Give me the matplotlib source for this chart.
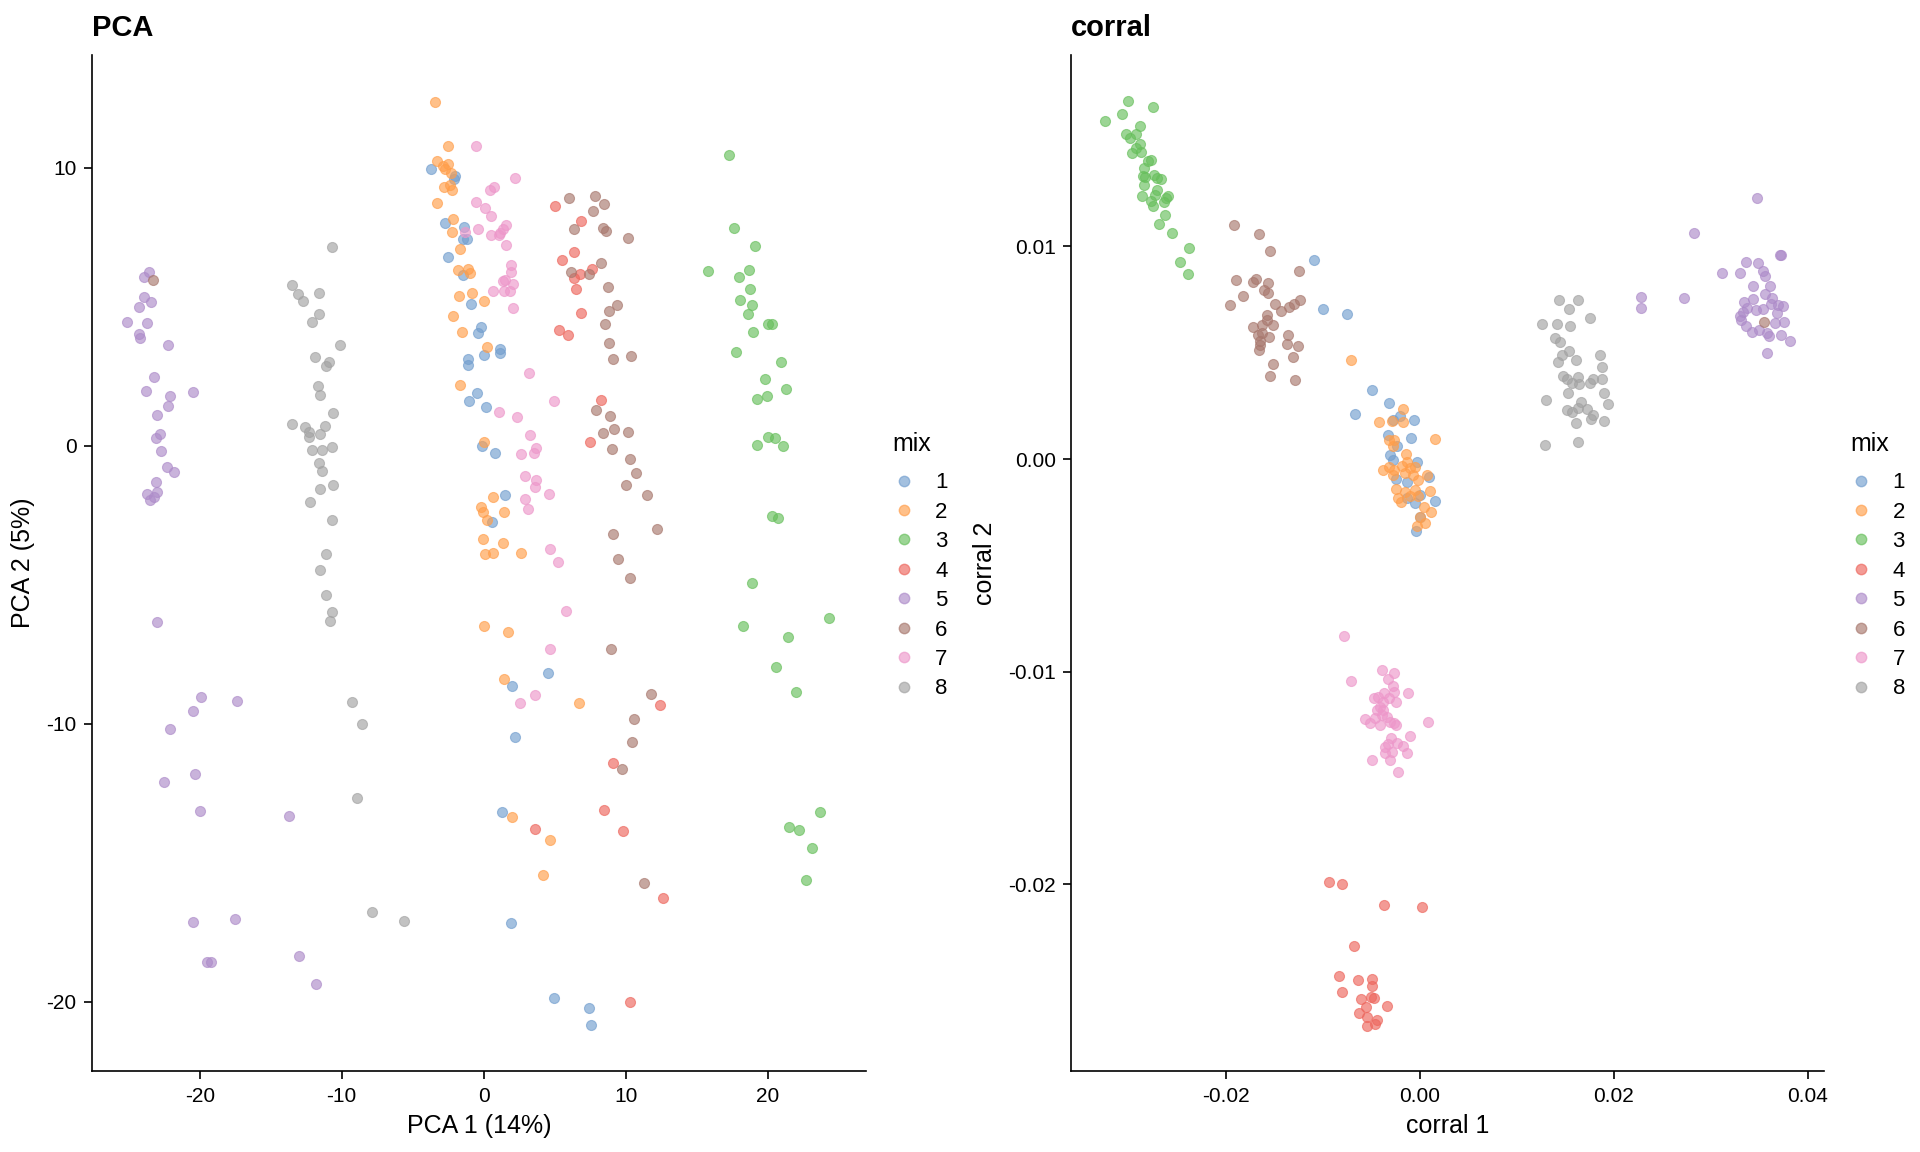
import numpy as np
import matplotlib
import matplotlib.pyplot as plt
from matplotlib.lines import Line2D
from matplotlib.ticker import FormatStrFormatter
matplotlib.use('Agg')

plt.rcParams['font.family'] = ['Liberation Sans', 'DejaVu Sans']
plt.rcParams['axes.unicode_minus'] = False

mix_levels = ['1', '2', '3', '4', '5', '6', '7', '8']
# tableau10medium, scater default
mix_colors = ['#729ECE', '#FF9E4A', '#67BF5C', '#ED665D',
              '#AD8BC9', '#A8786E', '#ED97CA', '#A2A2A2']

# ---- PCA panel ----
pca_x_1 = [-3.71, -2.1, -2.0, -2.7, -1.37, -1.48, -1.2, -2.49, -1.48, -0.87,
           -0.17, -0.42, 0.0, 1.13, 1.15, -1.08, -1.1, -0.45, -1.04, 0.16,
           -0.14, 0.8, 1.5, 0.56, 4.55, 1.99, 2.2, 1.31, 1.92, 4.95, 7.39, 7.58]
pca_y_1 = [9.94, 9.6, 9.7, 8.02, 7.86, 7.45, 7.45, 6.78, 6.12, 5.1,
           4.26, 4.04, 3.25, 3.47, 3.35, 3.11, 2.91, 1.88, 1.62, 1.39,
           -0.01, -0.27, -1.77, -2.73, -8.18, -8.63, -10.49, -13.18, -17.15, -19.85, -20.23, -20.84]

pca_x_2 = [-3.43, -2.54, -3.27, -2.85, -2.49, -2.73, -2.3, -2.8, -2.37, -2.21,
           -3.27, -2.14, -2.23, -1.69, -1.79, -1.08, -0.96, -1.74, -0.82, 0.0,
           -2.18, -1.51, 0.25, -1.67, 0.0, 0.68, -0.21, -0.05, 0.21, 1.41,
           -0.05, 1.36, 0.11, 0.63, 2.6, 0.04, 1.71, 1.45, 6.73, 1.99, 4.65, 4.2]
pca_y_2 = [12.37, 10.78, 10.24, 10.06, 10.13, 9.94, 9.8, 9.29, 9.38, 9.2,
           8.74, 8.14, 7.68, 7.06, 6.32, 6.34, 6.22, 5.37, 5.48, 5.22,
           4.67, 4.1, 3.54, 2.19, 0.13, -1.85, -2.19, -2.4, -2.67, -2.38,
           -3.37, -3.5, -3.88, -3.87, -3.85, -6.49, -6.69, -8.38, -9.25, -13.36, -14.16, -15.43]

pca_x_3 = [17.27, 17.63, 19.13, 15.82, 18.0, 18.68, 18.73, 18.07, 18.92, 18.59,
           20.02, 20.32, 18.94, 17.75, 20.96, 19.79, 21.27, 19.25, 19.97, 19.25,
           20.04, 20.54, 21.1, 20.32, 20.75, 18.92, 18.28, 24.34, 21.45, 20.58,
           22.01, 23.68, 21.52, 22.18, 23.14, 22.68]
pca_y_3 = [10.45, 7.82, 7.17, 6.27, 6.08, 6.32, 5.64, 5.24, 5.05, 4.74,
           4.37, 4.39, 4.1, 3.37, 3.0, 2.39, 2.03, 1.68, 1.79, 0.04,
           0.3, 0.26, -0.01, -2.54, -2.6, -4.95, -6.49, -6.2, -6.89, -7.97,
           -8.86, -13.17, -13.72, -13.81, -14.46, -15.63]

pca_x_4 = [5.04, 6.85, 6.36, 5.54, 7.63, 6.78, 6.38, 6.48, 6.83, 5.32,
           5.92, 8.26, 7.46, 12.4, 9.13, 3.63, 8.45, 9.83, 12.63, 10.32]
pca_y_4 = [8.62, 8.07, 6.96, 6.68, 6.34, 6.18, 6.02, 5.64, 4.76, 4.16,
           3.97, 1.65, 0.13, -9.33, -11.41, -13.78, -13.11, -13.86, -16.28, -20.0]

pca_x_5 = [-23.6, -23.9, -23.9, -23.4, -24.3, -25.1, -23.7, -24.3, -24.2, -22.2,
           -23.2, -23.8, -20.5, -22.1, -22.2, -23.0, -22.8, -23.1, -22.7, -22.3,
           -21.8, -23.1, -23.0, -23.7, -23.2, -23.5, -23.0,
           -19.9, -17.4, -20.5, -22.1, -20.3, -22.5, -20.0, -13.7, -20.5, -17.5,
           -19.5, -19.2, -13.0, -11.8]
pca_y_5 = [6.26, 6.06, 5.34, 5.18, 4.98, 4.44, 4.41, 4.0, 3.86, 3.62,
           2.48, 1.96, 1.94, 1.79, 1.43, 1.1, 0.41, 0.29, -0.2, -0.75,
           -0.94, -1.29, -1.65, -1.74, -1.83, -1.95, -6.33,
           -9.03, -9.17, -9.55, -10.17, -11.82, -12.1, -13.12, -13.33, -17.12, -17.03,
           -18.58, -18.55, -18.36, -19.34]

pca_x_6 = [6.0, 7.84, 8.49, 7.68, 6.38, 8.42, 8.61, 10.16, 8.24, 6.17,
           7.42, 8.73, 9.41, 8.8, 8.56, 8.85, 9.13, 10.35, 7.89, 8.92,
           8.38, 9.15, 10.18, 9.04, 10.3, 10.7, 10.02, 11.5, 12.2, 9.13,
           9.44, 10.28, 8.94, 11.8, 10.6, 10.47, 9.76, 11.27, -23.3]
pca_y_6 = [8.91, 8.97, 8.68, 8.45, 7.78, 7.82, 7.72, 7.46, 6.57, 6.24,
           6.17, 5.71, 5.07, 4.83, 4.39, 3.71, 3.13, 3.23, 1.29, 1.07,
           0.47, 0.59, 0.49, -0.12, -0.49, -0.98, -1.43, -1.79, -3.0, -3.16,
           -4.08, -4.77, -7.3, -8.94, -9.83, -10.64, -11.63, -15.71, 5.96]

pca_x_7 = [-0.56, 2.18, 0.44, 0.75, -0.56, 0.09, 0.49, -1.3, -0.4, 1.59,
           1.38, 1.15, 0.49, 1.06, 1.55, 1.92, 1.92, 1.34, 1.52, 2.08,
           0.68, 1.45, 1.85, 2.06, 3.19, 4.97, 1.1, 2.32, 3.24, 3.66,
           3.54, 2.63, 2.93, 3.68, 3.63, 4.62, 2.93, 3.12, 4.65, 5.25,
           5.77, 4.65, 3.61, 2.54]
pca_y_7 = [10.78, 9.64, 9.2, 9.29, 8.76, 8.55, 8.27, 7.7, 7.78, 7.94,
           7.79, 7.66, 7.58, 7.57, 7.22, 6.5, 6.26, 5.92, 5.96, 5.82,
           5.55, 5.56, 5.58, 4.95, 2.63, 1.6, 1.2, 1.04, 0.37, -0.09,
           -0.27, -0.3, -1.08, -1.23, -1.5, -1.73, -1.93, -2.28, -3.7, -4.18,
           -5.95, -7.3, -8.96, -9.25]

pca_x_8 = [-10.7, -13.5, -13.1, -11.6, -12.7, -11.6, -12.1, -10.1, -11.9, -10.9,
           -11.1, -11.7, -11.5, -10.6, -13.5, -12.6, -12.3, -12.3, -11.2, -11.5,
           -12.1, -11.4, -10.7, -11.6, -11.4, -11.5, -10.6, -12.2, -10.7, -11.1,
           -11.5, -11.1, -10.7, -10.8, -9.25, -8.6, -8.9, -7.9, -5.6]
pca_y_8 = [7.14, 5.79, 5.46, 5.48, 5.2, 4.73, 4.44, 3.63, 3.19, 3.02,
           2.88, 2.14, 1.83, 1.19, 0.78, 0.68, 0.48, 0.3, 0.71, 0.43,
           -0.17, -0.14, -0.06, -0.63, -0.92, -1.55, -1.4, -2.04, -2.66, -3.91,
           -4.48, -5.36, -5.99, -6.31, -9.23, -9.99, -12.66, -16.76, -17.09]

# ---- corral panel, values read in units of 1e-3 ----
cor_x_1 = [-10.87, -9.94, -7.5, -4.93, -3.14, -6.68, -2.04, -0.6, -2.79, -3.24,
           -0.87, -2.32, -3.07, -2.73, -0.26, -2.48, -1.32, 0.92, 0.02, 1.54,
           -0.49, -1.35, 0.05, -0.36]
cor_y_1 = [9.36, 7.07, 6.83, 3.26, 2.63, 2.13, 2.0, 1.83, 1.84, 1.14,
           1.01, 0.62, 0.2, -0.04, -0.12, -0.93, -1.09, -0.85, -1.68, -1.97,
           -2.08, -1.84, -2.73, -3.39]

cor_x_2 = [-7.12, -1.7, -4.17, -2.9, -1.7, 1.54, -3.14, -2.63, -2.79, -1.45,
           -3.76, -3.14, -2.63, -1.83, -1.35, -1.01, -0.49, -1.52, -0.67, -2.73,
           -0.15, 0.71, -2.45, -1.52, -0.49, 1.05, -2.22, -1.94, -1.01, -0.15,
           0.43, 1.12, 0.02, 0.54, -0.32]
cor_y_2 = [4.67, 2.36, 1.76, 1.81, 1.76, 0.96, 0.9, 0.9, 0.62, 0.23,
           -0.51, -0.38, -0.51, -0.35, -0.12, -0.43, -0.38, -0.66, -0.74, -0.74,
           -0.98, -0.74, -1.42, -1.53, -1.45, -1.5, -1.81, -2.0, -1.76, -1.73,
           -2.24, -2.5, -2.71, -3.02, -3.14]

cor_x_3 = [-30.04, -27.46, -30.72, -32.44, -28.86, -30.27, -29.24, -29.89, -28.8, -29.21,
           -29.69, -28.7, -27.7, -27.97, -28.39, -28.55, -28.32, -27.42, -27.11, -26.67,
           -28.45, -27.08, -27.25, -28.66, -25.98, -26.15, -27.7, -26.39, -27.49, -26.29,
           -26.9, -25.5, -23.81, -24.71, -23.92]
cor_y_3 = [16.84, 16.53, 16.23, 15.9, 15.65, 15.3, 15.3, 15.1, 14.82, 14.63,
           14.41, 14.42, 14.08, 14.0, 13.69, 13.29, 13.26, 13.34, 13.22, 13.17,
           12.89, 12.67, 12.4, 12.37, 12.35, 12.28, 12.12, 12.07, 11.92, 11.49,
           11.07, 10.63, 9.91, 9.27, 8.7]

cor_x_4 = [-9.32, -8.05, -3.69, 0.2, -6.78, -8.29, -6.34, -4.89, -7.99, -4.93,
           -6.03, -5.06, -4.72, -5.54, -3.41, -6.23, -5.41, -4.38, -5.47, -4.65]
cor_y_4 = [-19.88, -19.99, -20.96, -21.06, -22.89, -24.32, -24.51, -24.46, -25.07, -24.79,
           -25.39, -25.32, -25.34, -25.76, -25.72, -26.07, -26.23, -26.4, -26.64, -26.56]

cor_x_5 = [34.78, 28.25, 37.12, 37.2, 33.61, 34.88, 31.17, 33.02, 35.39, 35.57,
           34.36, 36.08, 22.76, 22.76, 27.19, 35.57, 34.36, 36.32, 33.44, 36.16,
           36.94, 37.45, 33.68, 34.64, 35.39, 36.84, 33.27, 32.99, 33.1, 36.57,
           37.56, 33.61, 34.92, 34.26, 35.74, 36.01, 37.19, 38.18, 35.81]
cor_y_5 = [12.29, 10.63, 9.58, 9.6, 9.25, 9.22, 8.73, 8.73, 8.82, 8.59,
           8.12, 8.15, 7.62, 7.12, 7.55, 7.77, 7.54, 7.57, 7.36, 7.3,
           7.26, 7.18, 7.1, 7.02, 7.05, 6.87, 6.89, 6.71, 6.52, 6.39,
           6.44, 6.27, 6.08, 5.96, 5.93, 5.77, 5.81, 5.56, 4.98]

cor_x_6 = [-19.18, -16.6, -15.4, -12.48, -18.94, -17.22, -16.85, -15.67, -16.08, -15.61,
           -18.25, -19.53, -14.92, -14.3, -13.51, -12.99, -12.37, -15.74, -15.78, -16.29,
           -15.1, -17.16, -16.7, -16.23, -15.51, -13.61, -16.5, -16.43, -13.68, -12.55,
           -16.54, -13.1, -15.16, -15.47, -12.86, 35.5]
cor_y_6 = [11.02, 10.58, 9.78, 8.82, 8.4, 8.31, 8.47, 8.28, 7.96, 7.81,
           7.65, 7.22, 7.3, 6.94, 7.13, 7.3, 7.49, 6.79, 6.52, 6.32,
           6.28, 6.19, 5.81, 5.92, 5.74, 5.81, 5.53, 5.34, 5.42, 5.33,
           5.14, 4.78, 4.49, 3.9, 3.73, 6.46]

cor_x_7 = [-7.81, -3.86, -2.63, -7.12, -3.25, -2.79, -2.63, -1.25, -3.69, -4.72,
           -4.34, -3.14, -2.45, -3.76, -4.1, -4.38, -3.76, -3.93, -5.65, -5.13,
           -4.62, -4.1, -3.35, -3.07, -2.66, -2.45, 0.84, -1.01, -3.0, -3.59,
           -3.25, -2.32, -1.7, -3.59, -2.9, -1.29, -4.96, -3.07, -2.28]
cor_y_7 = [-8.32, -9.92, -10.08, -10.44, -10.33, -10.67, -10.94, -11.02, -11.02, -11.25,
           -11.2, -11.25, -11.41, -11.41, -11.65, -11.8, -11.8, -12.04, -12.24, -12.43,
           -12.19, -12.51, -12.15, -12.35, -12.4, -12.51, -12.38, -13.01, -13.13, -13.53,
           -13.4, -13.37, -13.5, -13.84, -13.76, -13.81, -14.15, -14.15, -14.73]

cor_x_8 = [14.34, 16.33, 15.4, 17.57, 12.59, 14.14, 15.51, 13.96, 14.45, 15.34,
           14.68, 18.57, 14.21, 16.09, 18.8, 14.79, 15.2, 16.27, 15.65, 16.43,
           17.54, 17.88, 18.74, 15.3, 19.01, 13.0, 16.58, 19.42, 15.2, 15.71,
           16.33, 17.2, 17.82, 17.61, 18.98, 16.06, 12.87, 16.33]
cor_y_8 = [7.49, 7.49, 7.05, 6.61, 6.33, 6.35, 6.25, 5.69, 5.48, 5.06,
           4.87, 4.9, 4.54, 4.64, 4.31, 3.88, 3.77, 3.85, 3.57, 3.54,
           3.57, 3.76, 3.76, 3.1, 3.1, 2.79, 2.66, 2.6, 2.32, 2.21,
           2.42, 2.35, 2.08, 1.89, 1.8, 1.69, 0.68, 0.78]

pca_x = [pca_x_1, pca_x_2, pca_x_3, pca_x_4, pca_x_5, pca_x_6, pca_x_7, pca_x_8]
pca_y = [pca_y_1, pca_y_2, pca_y_3, pca_y_4, pca_y_5, pca_y_6, pca_y_7, pca_y_8]
cor_x = [np.array(v) * 1e-3 for v in
         [cor_x_1, cor_x_2, cor_x_3, cor_x_4, cor_x_5, cor_x_6, cor_x_7, cor_x_8]]
cor_y = [np.array(v) * 1e-3 for v in
         [cor_y_1, cor_y_2, cor_y_3, cor_y_4, cor_y_5, cor_y_6, cor_y_7, cor_y_8]]


def draw_panel(ax, xs, ys, title, xlabel, ylabel):
    for i in range(len(mix_levels)):
        ax.scatter(xs[i], ys[i], s=52, color=mix_colors[i], alpha=0.65,
                   edgecolors=mix_colors[i], linewidths=0.8, zorder=2)
    for side in ['top', 'right']:
        ax.spines[side].set_visible(False)
    for side in ['left', 'bottom']:
        ax.spines[side].set_linewidth(1.2)
    ax.tick_params(direction='out', length=6, width=1.2, labelsize=15, pad=5)
    ax.set_xlabel(xlabel, fontsize=18, labelpad=6)
    ax.set_ylabel(ylabel, fontsize=18, labelpad=8)
    ax.set_title(title, loc='left', fontsize=21, fontweight='bold', pad=14)


def add_legend(fig, x, y):
    # title drawn on its own so its gap to the keys matches ggplot
    fig.text(x, y, 'mix', fontsize=18, ha='left', va='center')
    handles = [Line2D([0], [0], marker='o', linestyle='', markersize=7.5,
                      markerfacecolor=c, markeredgecolor=c, alpha=0.65)
               for c in mix_colors]
    fig.legend(handles, mix_levels, loc='upper left',
               bbox_to_anchor=(x, y - 0.0245), frameon=False, fontsize=16,
               handlelength=1.0, handletextpad=0.9,
               labelspacing=0.38, borderpad=0, borderaxespad=0)


fig = plt.figure(figsize=(19.2, 11.52), dpi=100)

ax1 = fig.add_axes([0.0478, 0.0699, 0.4031, 0.8824])
draw_panel(ax1, pca_x, pca_y, 'PCA', 'PCA 1 (14%)', 'PCA 2 (5%)')
ax1.set_xlim(-27.6, 26.9)
ax1.set_ylim(-22.5, 14.05)
ax1.set_xticks([-20, -10, 0, 10, 20])
ax1.set_yticks([-20, -10, 0, 10])
add_legend(fig, 0.465, 0.6145)

ax2 = fig.add_axes([0.558, 0.0699, 0.3922, 0.8824])
draw_panel(ax2, cor_x, cor_y, 'corral', 'corral 1', 'corral 2')
ax2.set_xlim(-0.0359, 0.0417)
ax2.set_ylim(-0.0288, 0.0190)
ax2.set_xticks([-0.02, 0.0, 0.02, 0.04])
ax2.set_yticks([-0.02, -0.01, 0.0, 0.01])
ax2.xaxis.set_major_formatter(FormatStrFormatter('%.2f'))
ax2.yaxis.set_major_formatter(FormatStrFormatter('%.2f'))
add_legend(fig, 0.9637, 0.6145)

plt.savefig('out.png', dpi=100)
plt.close()
